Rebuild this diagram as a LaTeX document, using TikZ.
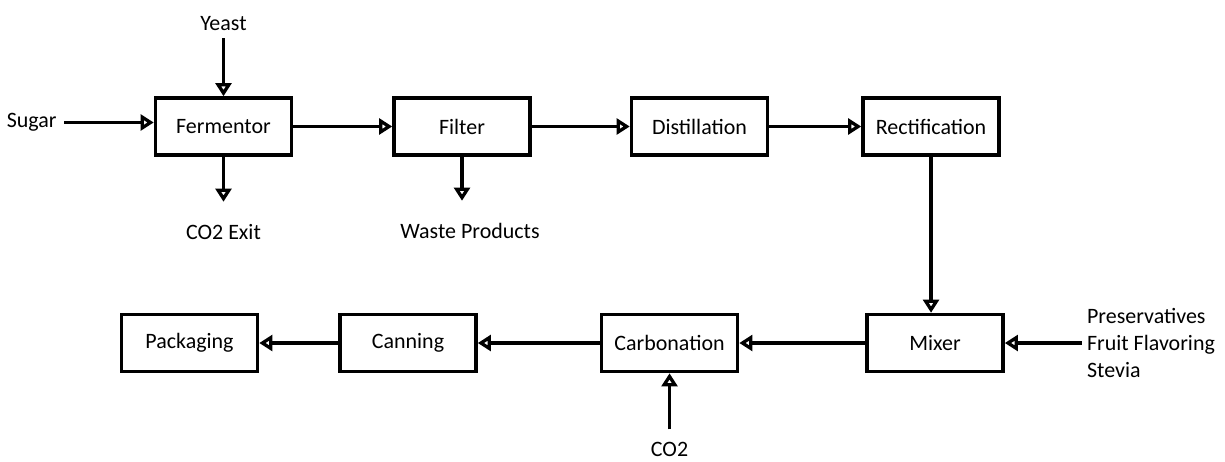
\documentclass[tikz,border=0pt]{standalone}
\usepackage{fontspec}
\setmainfont{Carlito}
\usetikzlibrary{arrows.meta, positioning}
\tikzstyle{tikzunit} = [rectangle, minimum width=2.72cm, minimum height=1.14cm, text centered, draw=black, line width=2pt]
\tikzstyle{tikzfeed} = [rectangle, align=center, draw=none]
\tikzstyle{tikzlist} = [rectangle, align=left, draw=none, inner sep=2pt]

\begin{document}
\begin{tikzpicture}[node distance=1cm, line width=2pt,
    >={Triangle[open, length=7.5pt, width=9pt]},
    font=\fontsize{12.5}{15.3}\selectfont]
    \useasboundingbox (0,0) rectangle (24.5,-9.24);

    % top row
    \node (fer)  [tikzunit] at (4.47,-2.53) {Fermentor};
    \node (fil)  [tikzunit, right=1.98cm of fer] {Filter};
    \node (dis)  [tikzunit, right=1.96cm of fil] {Distillation};
    \node (rect) [tikzunit, right=1.84cm of dis] {Rectification};

    % bottom row
    \node (mix)  [tikzunit, below=3.12cm of rect, xshift=0.08cm] {Mixer};
    \node (carb) [tikzunit, left=2.52cm of mix] {Carbonation};
    \node (can)  [tikzunit, left=2.44cm of carb] {Canning};
    \node (pack) [tikzunit, left=1.58cm of can] {Packaging};

    % feeds and outlets
    \node (yeast) [tikzfeed, above=1.16cm of fer] {Yeast};
    \node (sugar) [tikzfeed, left=1.79cm of fer, yshift=0.08cm] {Sugar};
    \node (co2x)  [tikzfeed, below=1.2cm of fer] {CO2 Exit};
    \node (waste) [tikzfeed, below=1.18cm of fil, xshift=0.16cm] {Waste Products};
    \node (add)   [tikzlist, right=1.54cm of mix] {Preservatives\\Fruit Flavoring\\Stevia};
    \node (co2)   [tikzfeed, below=1.22cm of carb] {CO2};

    \draw [->] (yeast) -- (fer);
    \draw [->] (sugar) -- (sugar -| fer.west);
    \draw [->, shorten >=0.3cm] (fer) -- (co2x);
    \draw [->, shorten >=0.3cm] (fil.south) -- (fil.south |- waste.north);
    \draw [->] (fer) -- (fil);
    \draw [->] (fil) -- (dis);
    \draw [->] (dis) -- (rect);
    \draw [->] (rect.south) -- (rect.south |- mix.north);
    \draw [->] (add) -- (mix);
    \draw [->] (mix) -- (carb);
    \draw [->, shorten <=0.1cm] (co2) -- (carb);
    \draw [->] (carb) -- (can);
    \draw [->] (can) -- (pack);
\end{tikzpicture}
\end{document}
